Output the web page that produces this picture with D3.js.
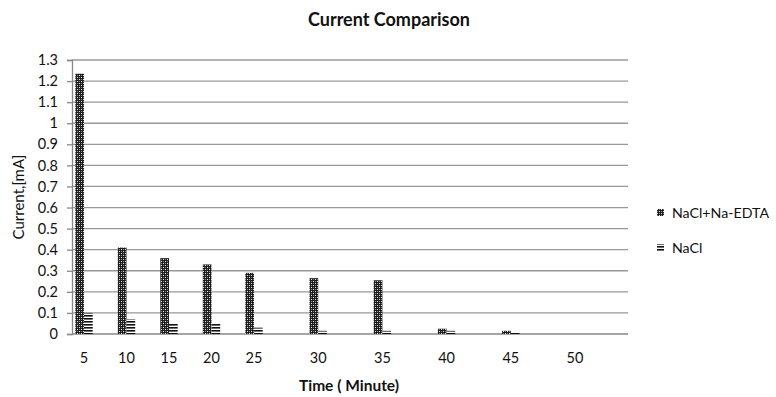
<!DOCTYPE html>
<html>
<head>
<meta charset="utf-8">
<script src="https://cdn.jsdelivr.net/npm/d3@7/dist/d3.min.js"></script>
<style>
  html, body { margin: 0; padding: 0; background: #fff; }
  svg { display: block; font-family: Lato, "Open Sans", sans-serif; }
</style>
</head>
<body>
<svg id="chart" width="776" height="397"></svg>
<script>
const categories = [5, 10, 15, 20, 25, 30, 35, 40, 45, 50];
const seriesNames = ["NaCl+Na-EDTA", "NaCl"];
const edtaValues = [1.235, 0.41, 0.36, 0.33, 0.29, 0.265, 0.255, 0.025, 0.015, 0];
const naclValues = [0.10, 0.07, 0.05, 0.05, 0.03, 0.015, 0.015, 0.015, 0.005, 0];
const yTicks = [0, 0.1, 0.2, 0.3, 0.4, 0.5, 0.6, 0.7, 0.8, 0.9, 1, 1.1, 1.2, 1.3];

const svg = d3.select("#chart");
const plot = { left: 72, right: 628, top: 60, bottom: 334 };

// category positions: first five categories are spaced tighter than the rest
const x = d3.scaleLinear().domain([5, 25, 50]).range([84, 254, 575]);
const y = d3.scaleLinear().domain([0, 1.3]).range([plot.bottom, plot.top]);
const bw = 8.7;
const ink = "#111";

const defs = svg.append("defs");
const cross = defs.append("pattern").attr("id", "cross")
  .attr("patternUnits", "userSpaceOnUse").attr("width", 4).attr("height", 4);
cross.append("rect").attr("width", 4).attr("height", 4).attr("fill", "#1e1e1e");
cross.append("rect").attr("x", 1).attr("y", 1).attr("width", 1).attr("height", 1).attr("fill", "#e8e8e8");
cross.append("rect").attr("x", 3).attr("y", 3).attr("width", 1).attr("height", 1).attr("fill", "#e8e8e8");
cross.append("rect").attr("x", 3).attr("y", 1).attr("width", 1).attr("height", 1).attr("fill", "#888");
cross.append("rect").attr("x", 1).attr("y", 3).attr("width", 1).attr("height", 1).attr("fill", "#888");

const lines = defs.append("pattern").attr("id", "hlines")
  .attr("patternUnits", "userSpaceOnUse").attr("width", 4).attr("height", 3);
lines.append("rect").attr("width", 4).attr("height", 3).attr("fill", "#fff");
lines.append("rect").attr("y", 0).attr("width", 4).attr("height", 1.6).attr("fill", "#111");

// gridlines
svg.append("g").selectAll("line").data(yTicks.filter(d => d > 0)).join("line")
  .attr("x1", plot.left).attr("x2", plot.right)
  .attr("y1", d => y(d)).attr("y2", d => y(d))
  .attr("stroke", "#989898").attr("stroke-width", 1.3);

// y axis
const yAxis = svg.append("g").attr("transform", `translate(${plot.left},0)`)
  .call(d3.axisLeft(y).tickValues(yTicks).tickFormat(d => String(+d.toFixed(1))).tickSize(5).tickPadding(9));
yAxis.select(".domain").attr("stroke", "#888").attr("stroke-width", 1.3);
yAxis.selectAll(".tick line").attr("stroke", "#888").attr("stroke-width", 1.3);
yAxis.selectAll(".tick text").attr("font-size", 14.5).attr("fill", ink)
  .attr("font-family", "Lato, sans-serif");

// x axis line
svg.append("line").attr("x1", plot.left).attr("x2", plot.right)
  .attr("y1", plot.bottom).attr("y2", plot.bottom)
  .attr("stroke", "#888").attr("stroke-width", 1.3);

// bars
svg.append("g").selectAll("rect").data(categories).join("rect")
  .attr("x", (d) => x(d) - bw)
  .attr("y", (d, i) => y(edtaValues[i]))
  .attr("width", bw)
  .attr("height", (d, i) => plot.bottom - y(edtaValues[i]))
  .attr("fill", "url(#cross)");
svg.append("g").selectAll("rect").data(categories).join("rect")
  .attr("x", (d) => x(d))
  .attr("y", (d, i) => y(naclValues[i]))
  .attr("width", bw)
  .attr("height", (d, i) => plot.bottom - y(naclValues[i]))
  .attr("fill", "url(#hlines)");

// x tick labels
svg.append("g").selectAll("text").data(categories).join("text")
  .attr("x", d => x(d)).attr("y", 362.5)
  .attr("text-anchor", "middle").attr("font-size", 14.5).attr("fill", ink)
  .text(d => d);

// titles
svg.append("text").attr("x", 389).attr("y", 26).attr("text-anchor", "middle")
  .attr("font-size", 18).attr("font-weight", "bold").attr("fill", ink)
  .text("Current Comparison");
svg.append("text").attr("x", 349).attr("y", 391).attr("text-anchor", "middle")
  .attr("font-size", 15.5).attr("font-weight", "bold").attr("fill", ink)
  .text("Time ( Minute)");
svg.append("text").attr("transform", "translate(24,197) rotate(-90)")
  .attr("text-anchor", "middle").attr("font-size", 15).attr("fill", ink)
  .text("Current,[mA]");

// legend
const legend = svg.append("g");
const legendFills = ["url(#cross)", "url(#hlines)"];
seriesNames.forEach((name, i) => {
  const ly = 213 + i * 35;
  legend.append("rect").attr("x", 657).attr("y", ly - 4).attr("width", 7).attr("height", 7)
    .attr("fill", legendFills[i]);
  legend.append("text").attr("x", 672).attr("y", ly + 5)
    .attr("font-size", 14.2).attr("fill", ink).text(name);
});
</script>
</body>
</html>
